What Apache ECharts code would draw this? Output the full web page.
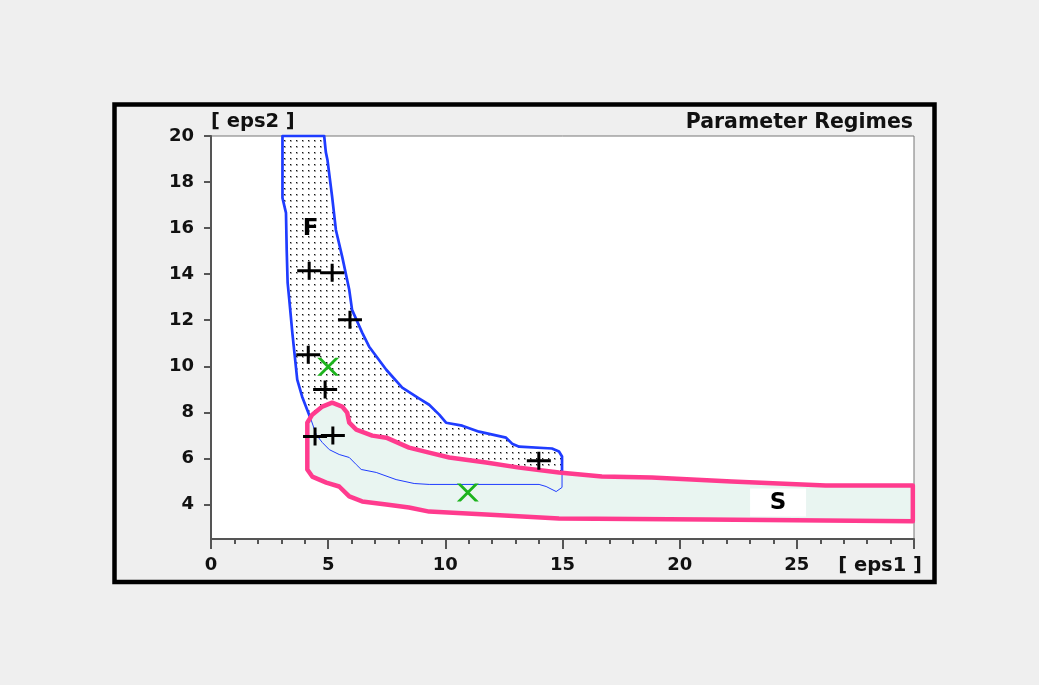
<!DOCTYPE html>
<html>
<head>
<meta charset="utf-8">
<style>
  html, body { margin: 0; padding: 0; background: #efefef; }
  #chart { width: 1039px; height: 685px; }
</style>
<script src="https://cdn.jsdelivr.net/npm/echarts@6/dist/echarts.min.js"></script>
</head>
<body>
<div id="chart"></div>
<script>
// ---- data ----
const xTickLabels = [0, 5, 10, 15, 20, 25];
const yTickLabels = [4, 6, 8, 10, 12, 14, 16, 18, 20];

// Regime F boundary (eps1, eps2)
const regionF = [
  [3.05, 20], [3.05, 17.31], [3.20, 16.66], [3.23, 15.06], [3.27, 13.63],
  [3.34, 12.89], [3.47, 11.46], [3.68, 9.42], [3.89, 8.68], [4.05, 8.25],
  [4.27, 7.68], [4.49, 7.03], [4.75, 6.69], [5.05, 6.38], [5.47, 6.17],
  [5.90, 6.04], [6.20, 5.73], [6.41, 5.52], [7.05, 5.39], [7.90, 5.08],
  [8.67, 4.91], [9.31, 4.87], [14.0, 4.87], [14.30, 4.78], [14.73, 4.56],
  [14.98, 4.74], [14.98, 6.08], [14.85, 6.30], [14.55, 6.43], [13.15, 6.51],
  [12.85, 6.64], [12.59, 6.90], [11.44, 7.16], [10.72, 7.42], [10.03, 7.55],
  [9.74, 7.90], [9.31, 8.33], [8.89, 8.60], [8.16, 9.07], [7.48, 9.85],
  [6.75, 10.85], [6.45, 11.46], [6.02, 12.45], [5.90, 13.32], [5.60, 14.75],
  [5.33, 15.92], [5.17, 17.35], [4.97, 18.96], [4.90, 19.30], [4.83, 20]
];

// Regime S boundary (eps1, eps2)
const regionS = [
  [4.11, 7.55], [4.32, 7.90], [4.75, 8.25], [5.17, 8.42], [5.60, 8.25],
  [5.81, 7.99], [5.90, 7.55], [6.20, 7.25], [6.88, 6.99], [7.48, 6.90],
  [8.45, 6.47], [9.31, 6.25], [10.17, 6.04], [11.74, 5.82], [13.15, 5.60],
  [14.85, 5.39], [16.68, 5.21], [18.81, 5.17], [22.22, 5.00], [26.23, 4.82],
  [29.95, 4.82], [29.95, 3.27], [21.12, 3.35], [14.85, 3.39], [11.74, 3.56],
  [9.31, 3.69], [8.45, 3.87], [7.48, 4.00], [6.45, 4.13], [5.90, 4.35],
  [5.47, 4.78], [4.92, 4.95], [4.32, 5.21], [4.11, 5.52]
];

// Plus markers
const plusPoints = [
  [4.19, 14.15], [5.17, 14.06], [5.93, 12.02], [4.15, 10.5],
  [4.87, 8.99], [4.44, 6.95], [5.2, 6.99], [13.99, 5.9]
];
// Cross markers
const crossPoints = [[5.0, 9.98], [10.96, 4.52]];

// Region labels
const labelNames = ['F', 'S'];
const labelPositions = [[4.25, 15.97], [24.2, 4.08]];

// ---- chart ----
const dots = document.createElement('canvas');
dots.width = 6; dots.height = 6;
(function () {
  const c = dots.getContext('2d');
  c.fillStyle = '#ffffff'; c.fillRect(0, 0, 6, 6);
  c.fillStyle = '#a8a8a8'; c.fillRect(2, 2, 2, 2);
  c.fillStyle = '#111111'; c.fillRect(2, 2, 1, 1);
})();

const BLUE = '#1f3cff';
const PINK = '#ff3b8e';
const MINT = '#e9f5f1';
const FONT = 'DejaVu Sans';

const chart = echarts.init(document.getElementById('chart'), null, { renderer: 'canvas' });

function polyPoints(arr, api) { return arr.map(p => api.coord(p)); }

const option = {
  backgroundColor: '#efefef',
  animation: false,
  grid: {
    left: 211, top: 136, width: 703, height: 403,
    show: true, backgroundColor: '#ffffff', borderColor: '#777', borderWidth: 1
  },
  xAxis: {
    type: 'value', min: 0, max: 30, interval: 5,
    axisLine: { show: true, onZero: false, lineStyle: { color: '#555', width: 2 } },
    axisTick: { show: true, length: 10, lineStyle: { color: '#555', width: 2 } },
    minorTick: { show: true, splitNumber: 5, length: 5, lineStyle: { color: '#555', width: 2 } },
    splitLine: { show: false },
    axisLabel: {
      customValues: xTickLabels, margin: 17,
      fontFamily: FONT, fontWeight: 'bold', fontSize: 18, color: '#111'
    }
  },
  yAxis: {
    type: 'value', min: 2.5, max: 20,
    axisLine: { show: true, onZero: false, lineStyle: { color: '#555', width: 2 } },
    axisTick: { show: true, customValues: yTickLabels, length: 7, lineStyle: { color: '#555', width: 2 } },
    splitLine: { show: false },
    axisLabel: {
      customValues: yTickLabels, margin: 17,
      fontFamily: FONT, fontWeight: 'bold', fontSize: 18, color: '#111'
    }
  },
  graphic: [
    {
      type: 'rect', silent: true, z: 100,
      shape: { x: 114.5, y: 104.5, width: 820, height: 477.5 },
      style: { fill: 'none', stroke: '#000', lineWidth: 4.5 }
    },
    {
      type: 'text', x: 913, y: 123, z: 100,
      style: { text: 'Parameter Regimes', font: 'bold 20.5px "DejaVu Sans"', fill: '#111', align: 'right', verticalAlign: 'middle' }
    },
    {
      type: 'text', x: 211, y: 122, z: 100,
      style: { text: '[ eps2 ]', font: 'bold 19.5px "DejaVu Sans"', fill: '#111', align: 'left', verticalAlign: 'middle' }
    },
    {
      type: 'text', x: 922, y: 566, z: 100,
      style: { text: '[ eps1 ]', font: 'bold 19.5px "DejaVu Sans"', fill: '#111', align: 'right', verticalAlign: 'middle' }
    }
  ],
  series: [
    {
      type: 'custom', name: 'F', z: 2,
      data: regionF, encode: { x: 0, y: 1 },
      renderItem: function (params, api) {
        if (params.dataIndex !== 0) return null;
        return {
          type: 'polygon',
          shape: { points: polyPoints(regionF, api) },
          style: { fill: { image: dots, repeat: 'repeat' }, stroke: BLUE, lineWidth: 2.7, lineJoin: 'round' }
        };
      }
    },
    {
      type: 'custom', name: 'S', z: 3,
      data: regionS, encode: { x: 0, y: 1 },
      renderItem: function (params, api) {
        if (params.dataIndex !== 0) return null;
        const pts = polyPoints(regionS, api);
        return {
          type: 'group',
          children: [
            { type: 'polygon', shape: { points: pts }, style: { fill: MINT, stroke: null } },
            { type: 'polygon', shape: { points: polyPoints(regionF, api) }, style: { fill: null, stroke: BLUE, lineWidth: 1, lineJoin: 'round' } },
            { type: 'polygon', shape: { points: pts }, style: { fill: null, stroke: PINK, lineWidth: 4.5, lineJoin: 'round' } }
          ]
        };
      }
    },
    {
      type: 'scatter', name: 'plus', z: 5,
      data: plusPoints,
      symbol: 'path://M0,7.5 L24,7.5 L24,10.5 L0,10.5 Z M10.5,0 L13.5,0 L13.5,18 L10.5,18 Z',
      symbolSize: [24, 18],
      itemStyle: { color: '#000', opacity: 1 }
    },
    {
      type: 'scatter', name: 'cross', z: 5,
      data: crossPoints,
      symbol: 'path://M0,0 L4,0 L22,18 L18,18 Z M18,0 L22,0 L4,18 L0,18 Z',
      symbolSize: [22, 18],
      itemStyle: { color: '#1db31d', opacity: 1 }
    },
    {
      type: 'custom', name: 'labels', z: 6,
      data: labelPositions, encode: { x: 0, y: 1 },
      renderItem: function (params, api) {
        const p = api.coord([api.value(0), api.value(1)]);
        const name = labelNames[params.dataIndex];
        const children = [];
        if (name === 'S') {
          children.push({ type: 'rect', shape: { x: p[0] - 28, y: p[1] - 14, width: 56, height: 28 }, style: { fill: '#ffffff' } });
        }
        children.push({
          type: 'text', x: p[0], y: p[1],
          style: { text: name, font: 'bold 23px "DejaVu Sans"', fill: '#000', align: 'center', verticalAlign: 'middle' }
        });
        return { type: 'group', children: children };
      }
    }
  ]
};

chart.setOption(option);
</script>
</body>
</html>
